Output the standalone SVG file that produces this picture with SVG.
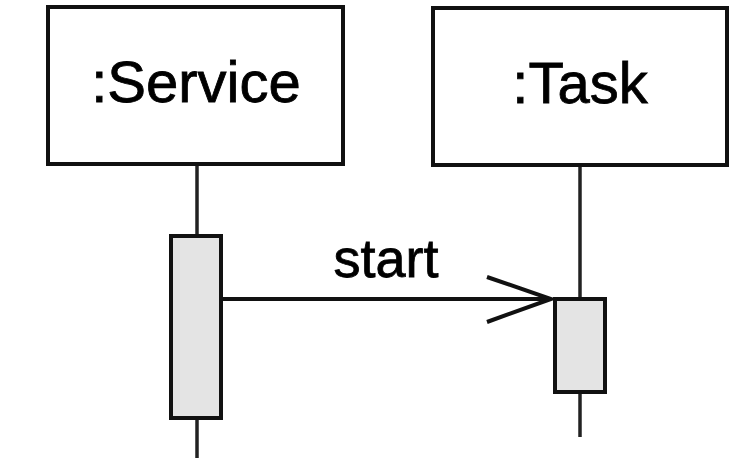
<svg xmlns="http://www.w3.org/2000/svg" width="742" height="458" viewBox="0 0 742 458">
<style>
.obj{fill:#fff;stroke:#111;stroke-width:4}
.act{fill:#e4e4e4;stroke:#111;stroke-width:4}
.life{stroke:#222;stroke-width:3.5;fill:none}
.msg{stroke:#111;stroke-width:4;fill:none}
.t{font-family:"Liberation Sans",Arial,sans-serif;fill:#000;stroke:#000;stroke-width:0.8}
</style>
<rect width="742" height="458" fill="#fff"/>
<g id="connectors">
<line class="life" x1="197" y1="164" x2="197" y2="236"/>
<line class="life" x1="197" y1="419" x2="197" y2="458"/>
<line class="life" x1="580" y1="166" x2="580" y2="298"/>
<line class="life" x1="580" y1="394" x2="580" y2="437"/>
<g id="msg-start">
<line class="msg" x1="222" y1="299" x2="551" y2="299"/>
<polyline class="msg" points="487,277 551,299 487,322"/>
<text class="t" x="386" y="277" font-size="54" text-anchor="middle">start</text>
</g>
</g>
<g id="service">
<rect class="obj" x="48" y="7" width="295" height="157"/>
<text class="t" x="196" y="102" font-size="58" text-anchor="middle">:Service</text>
</g>
<g id="task">
<rect class="obj" x="433" y="8" width="294" height="157"/>
<text class="t" x="580" y="103" font-size="58" text-anchor="middle">:Task</text>
</g>
<g id="service-activation">
<rect class="act" x="171" y="236" width="50" height="182"/>
</g>
<g id="task-activation">
<rect class="act" x="555" y="299" width="50" height="93"/>
</g>
</svg>
